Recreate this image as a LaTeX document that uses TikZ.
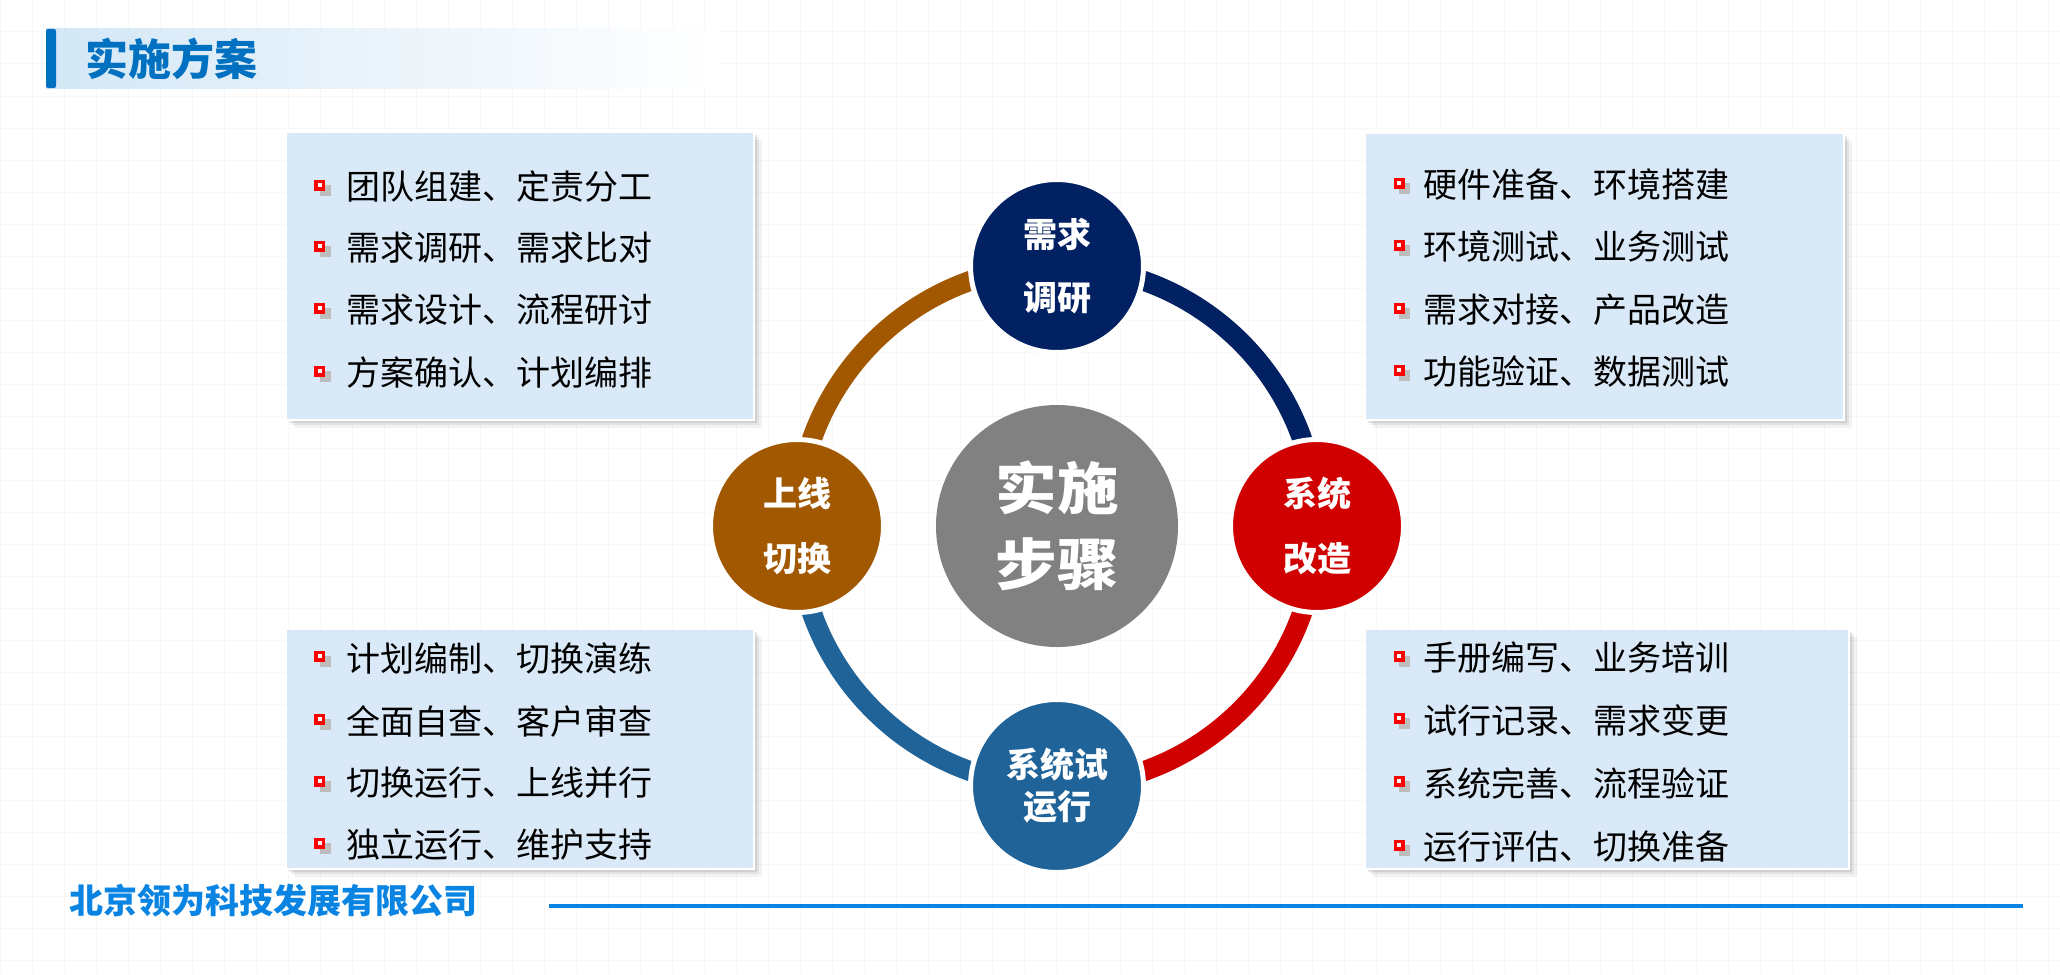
\documentclass[tikz,border=0pt]{standalone}
\usepackage{fontspec}
\newfontfamily\cjk{Noto Sans CJK SC}
\newfontfamily\cjkwide{Noto Sans CJK SC}[FakeStretch=1.1]
\usetikzlibrary{shadows}

\definecolor{navyc}{HTML}{012163}
\definecolor{redc}{HTML}{D00000}
\definecolor{bluec}{HTML}{1F6399}
\definecolor{brownc}{HTML}{A15800}
\definecolor{grayc}{HTML}{818181}
\definecolor{boxblue}{HTML}{DAE9F7}
\definecolor{titlebg}{HTML}{D3E7F6}
\definecolor{titleblue}{HTML}{0070C0}
\definecolor{footblue}{HTML}{0A84E2}
\definecolor{gridc}{HTML}{F7F7F7}
\definecolor{bulletred}{HTML}{FF0000}
\definecolor{bulletgray}{HTML}{BDBDBD}

\pgfdeclarelayer{bg}
\pgfdeclarelayer{ring}
\pgfsetlayers{bg,ring,main}

\tikzset{
  infobox/.style={rectangle, anchor=north west, fill=boxblue, draw=white,
    line width=1.5, inner sep=0,
    general shadow={fill=black, opacity=.05, shadow xshift=8pt, shadow yshift=-8pt},
    general shadow={fill=black, opacity=.06, shadow xshift=5pt, shadow yshift=-5pt},
    general shadow={fill=black, opacity=.08, shadow xshift=3pt, shadow yshift=-3pt}},
  itemtext/.style={anchor=west, inner sep=0, text=black,
    font=\cjk\fontsize{34}{34}\selectfont},
  stepcircle/.style={circle, minimum size=173, inner sep=0, draw=white,
    line width=5, text=white, align=center},
  ringarc/.style={line width=20, line cap=butt},
  bulletmark/.pic={
    \fill[bulletgray] (0,0) rectangle (11,11);
    \fill[bulletred] (-5.5,-5.5) rectangle (5.5,5.5);
    \fill[white] (-2,-2) rectangle (2,2);
  }
}

\begin{document}
\begin{tikzpicture}[x=1pt, y=-1pt]
\useasboundingbox (0,0) rectangle (2060,974);

% page background with a faint grid
\begin{pgfonlayer}{bg}
  \fill[white] (0,0) rectangle (2060,974);
  \foreach \gx in {0,32,...,2060} \draw[gridc, line width=1] (\gx,0) -- (\gx,974);
  \foreach \gy in {0,32,...,974} \draw[gridc, line width=1] (0,\gy) -- (2060,\gy);
\end{pgfonlayer}

% heading bar
\shade[left color=titlebg, right color=white, middle color=titlebg!45]
  (46,29) rectangle (720,88);
\fill[titleblue, rounded corners=2] (46,29) rectangle (56,88);
\node[anchor=west, inner sep=0, text=titleblue,
  font=\cjk\bfseries\fontsize{43}{43}\selectfont] (title) at (85,59) {实施方案};

% four task boxes
\node[infobox, minimum width=468, minimum height=288] (boxTL) at (285,131) {};
\node[infobox, minimum width=479, minimum height=287] (boxTR) at (1364,132) {};
\node[infobox, minimum width=468, minimum height=240] (boxBL) at (285,628) {};
\node[infobox, minimum width=484, minimum height=240] (boxBR) at (1364,628) {};

% box items: left column
\foreach \ty/\txt [count=\i] in {187/团队组建、定责分工, 248/需求调研、需求比对,
    310/需求设计、流程研讨, 373/方案确认、计划编排} {
  \pic at (319.5,\ty-2) {bulletmark};
  \node[itemtext] (tl\i) at (346,\ty) {\txt};
}
\foreach \ty/\txt [count=\i] in {658/计划编制、切换演练, 721/全面自查、客户审查,
    783/切换运行、上线并行, 845/独立运行、维护支持} {
  \pic at (319.5,\ty-2) {bulletmark};
  \node[itemtext] (bl\i) at (346,\ty) {\txt};
}
% box items: right column
\foreach \ty/\txt [count=\i] in {185/硬件准备、环境搭建, 247/环境测试、业务测试,
    310/需求对接、产品改造, 372/功能验证、数据测试} {
  \pic at (1399,\ty-2) {bulletmark};
  \node[itemtext] (tr\i) at (1423,\ty) {\txt};
}
\foreach \ty/\txt [count=\i] in {658/手册编写、业务培训, 720/试行记录、需求变更,
    783/系统完善、流程验证, 847/运行评估、切换准备} {
  \pic at (1399,\ty-2) {bulletmark};
  \node[itemtext] (br\i) at (1423,\ty) {\txt};
}

% step circles
\node[circle, minimum size=242, inner sep=0, fill=grayc, text=white, align=center,
  font=\cjkwide\bfseries\fontsize{56}{76}\selectfont] (hub) at (1057,526) {实施\\步骤};
\node[stepcircle, fill=navyc, font=\cjk\bfseries\fontsize{34}{63}\selectfont]
  (s1) at (1057,266) {需求\\调研};
\node[stepcircle, fill=redc, font=\cjk\bfseries\fontsize{34}{65}\selectfont]
  (s2) at (1317,526) {系统\\改造};
\node[stepcircle, fill=bluec, font=\cjk\bfseries\fontsize{34}{42}\selectfont]
  (s3) at (1057,786) {系统试\\运行};
\node[stepcircle, fill=brownc, font=\cjk\bfseries\fontsize{34}{65}\selectfont]
  (s4) at (797,526) {上线\\切换};

% ring segments joining the steps clockwise
\begin{pgfonlayer}{ring}
  \draw[ringarc, navyc]  (s1.center) arc[start angle=-90, end angle=0,   radius=260];
  \draw[ringarc, redc]   (s2.center) arc[start angle=0,   end angle=90,  radius=260];
  \draw[ringarc, bluec]  (s3.center) arc[start angle=90,  end angle=180, radius=260];
  \draw[ringarc, brownc] (s4.center) arc[start angle=180, end angle=270, radius=260];
\end{pgfonlayer}

% footer
\node[anchor=west, inner sep=0, text=footblue,
  font=\cjk\bfseries\fontsize{34}{34}\selectfont] (company) at (69,901) {北京领为科技发展有限公司};
\coordinate (ruleL) at (549,906);
\coordinate (ruleR) at (2023,906);
\draw[footblue, line width=4] (ruleL) -- (ruleR);
\end{tikzpicture}
\end{document}
